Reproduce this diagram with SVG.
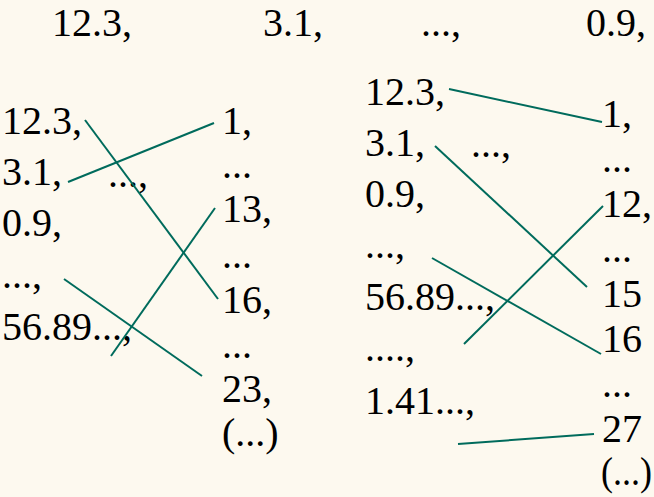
<svg xmlns="http://www.w3.org/2000/svg" width="654" height="497" viewBox="0 0 654 497">
<style>
.c line{stroke:#006b5c;stroke-width:2;stroke-linecap:butt}
</style>
<rect width="654" height="497" fill="#fdf9ef"/>
<g font-family="'Liberation Serif', 'DejaVu Serif', serif" font-size="40" fill="#000">
<g id="top">
<text x="52" y="36">12.3,</text>
<text x="263" y="36">3.1,</text>
<text x="421" y="36">...,</text>
<text x="586" y="36">0.9,</text>
</g>
<g id="left-src">
<text x="2" y="134">12.3,</text>
<text x="2" y="185">3.1,</text>
<text x="108" y="187">...,</text>
<text x="2" y="236">0.9,</text>
<text x="2" y="288">...,</text>
<text x="2" y="340">56.89...,</text>
</g>
<g id="left-dst">
<text x="222" y="134">1,</text>
<text x="222" y="178">...</text>
<text x="222" y="222">13,</text>
<text x="222" y="268">...</text>
<text x="222" y="313">16,</text>
<text x="222" y="358">...</text>
<text x="222" y="402">23,</text>
<text x="222" y="446">(...)</text>
</g>
<g id="right-src">
<text x="365" y="105">12.3,</text>
<text x="365" y="156">3.1,</text>
<text x="471" y="157">...,</text>
<text x="365" y="207">0.9,</text>
<text x="365" y="258">...,</text>
<text x="365" y="310">56.89...,</text>
<text x="365" y="361">....,</text>
<text x="365" y="414">1.41...,</text>
</g>
<g id="right-dst">
<text x="602" y="127">1,</text>
<text x="602" y="172">...</text>
<text x="602" y="217">12,</text>
<text x="602" y="262">...</text>
<text x="602" y="307">15</text>
<text x="602" y="352">16</text>
<text x="602" y="397">...</text>
<text x="602" y="442">27</text>
<text x="601" y="485" textLength="51" lengthAdjust="spacingAndGlyphs">(...)</text>
</g>
</g>
<g id="connectors" class="c">
<line x1="85" y1="120" x2="218" y2="299"/>
<line x1="68" y1="182" x2="214" y2="123"/>
<line x1="215" y1="208" x2="111" y2="356"/>
<line x1="64" y1="279" x2="202" y2="376"/>
<line x1="449" y1="89" x2="602" y2="122"/>
<line x1="435" y1="146" x2="587" y2="287"/>
<line x1="603" y1="206" x2="464" y2="344"/>
<line x1="432" y1="258" x2="601" y2="354"/>
<line x1="458" y1="444" x2="594" y2="434"/>
</g>
</svg>
